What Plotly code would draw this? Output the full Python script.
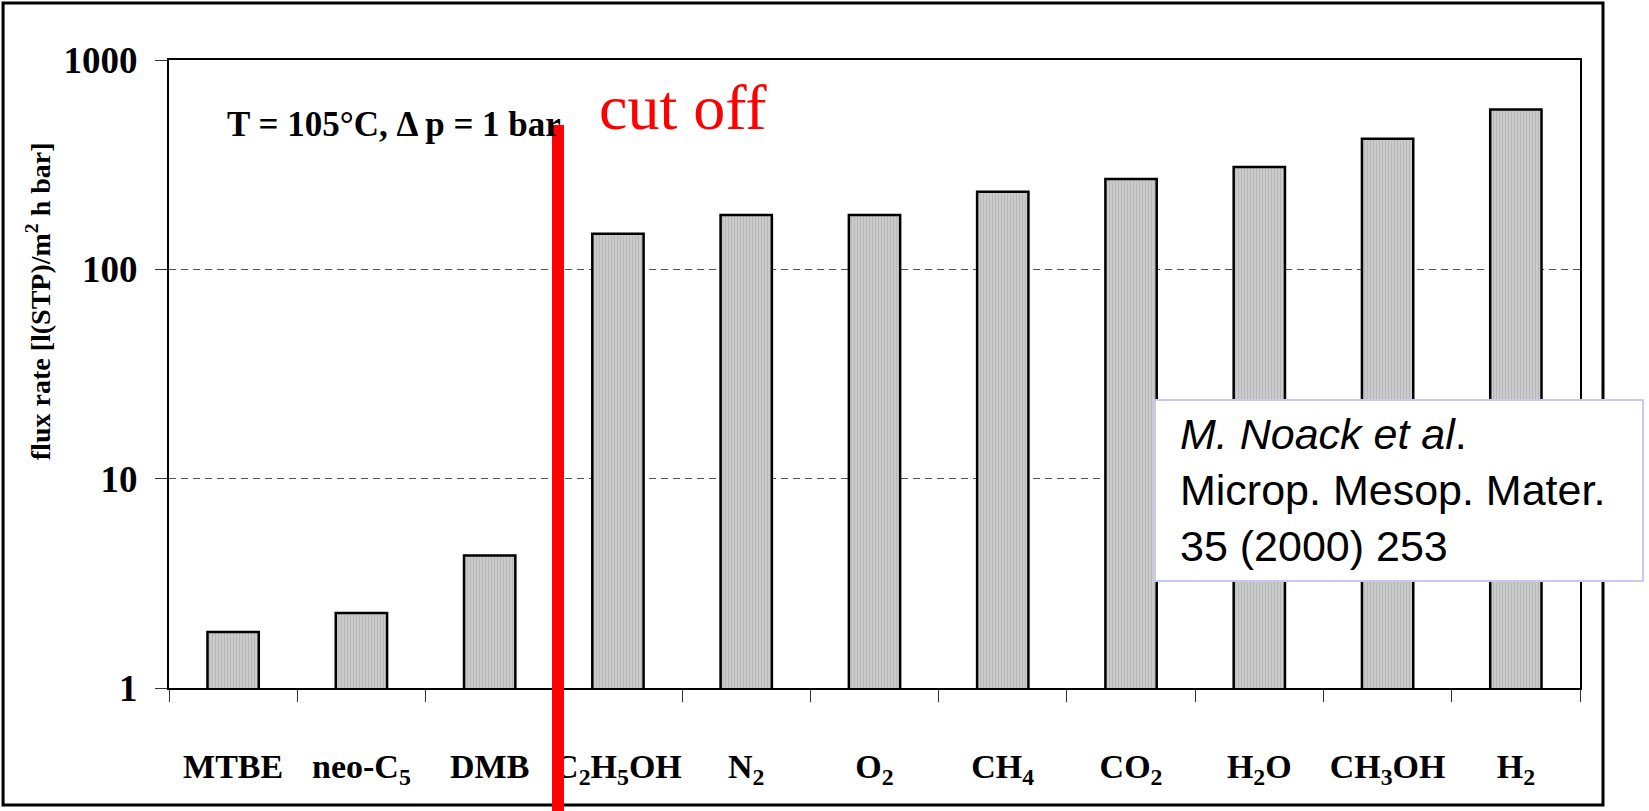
import plotly.graph_objects as go

# Permeating species and measured flux rates (log scale)
species = ["MTBE", "neo-C<sub>5</sub>", "DMB", "C<sub>2</sub>H<sub>5</sub>OH", "N<sub>2</sub>",
           "O<sub>2</sub>", "CH<sub>4</sub>", "CO<sub>2</sub>", "H<sub>2</sub>O",
           "CH<sub>3</sub>OH", "H<sub>2</sub>"]
flux = [1.85, 2.28, 4.3, 148, 182, 182, 235, 270, 308, 420, 580]

y_tickvals = [1, 10, 100, 1000]
y_ticktext = ["1", "10", "100", "1000"]

SERIF = "Liberation Serif, Times New Roman, serif"
SANS = "Liberation Sans, Arial, sans-serif"

fig = go.Figure()
fig.add_trace(go.Bar(
    x=species,
    y=flux,
    marker=dict(
        color="#c4c4c4",
        line=dict(color="black", width=2.5),
        pattern=dict(shape="|", fgcolor="#a6a6a6", bgcolor="#cbcbcb", size=3, solidity=0.35),
    ),
    showlegend=False,
))

fig.update_layout(
    width=1649, height=811,
    margin=dict(l=169, r=69, t=60, b=123, autoexpand=False),
    paper_bgcolor="white", plot_bgcolor="white",
    bargap=0.6,
    font=dict(family=SERIF, color="black"),
)

fig.update_xaxes(
    type="category",
    showline=True, linecolor="black", linewidth=2, mirror=True,
    ticks="outside", tickson="boundaries", ticklen=12, tickcolor="#333", tickwidth=1,
    tickangle=0,
    tickfont=dict(family=SERIF, size=34, weight="bold", color="black"),
    ticklabelstandoff=47,
    showgrid=False,
)

fig.update_yaxes(
    type="log", range=[0, 3],
    tickvals=y_tickvals, ticktext=y_ticktext,
    showline=True, linecolor="black", linewidth=2, mirror=True,
    ticks="outside", ticklen=12, tickcolor="#333", tickwidth=1,
    tickfont=dict(family=SERIF, size=37, weight="bold", color="black"),
    ticklabelstandoff=10,
    showgrid=True, gridcolor="#555555", gridwidth=1, griddash="7px,5px",
)

# outer frame around the whole figure
fig.add_shape(type="rect", xref="paper", yref="paper",
              x0=-0.1176, x1=1.0163, y0=-0.1863, y1=1.0908,
              line=dict(color="black", width=3), fillcolor="rgba(0,0,0,0)", layer="above")

# red cut-off marker between DMB and ethanol
fig.add_shape(type="line", xref="paper", yref="paper",
              x0=0.2757, x1=0.2757, y0=-0.2, y1=0.8965,
              line=dict(color="#ff0000", width=12), layer="above")

fig.add_annotation(xref="paper", yref="paper", x=0.3643, y=0.9236,
                   text="cut off", showarrow=False, xanchor="center", yanchor="middle",
                   font=dict(family=SERIF, size=64, color="#ff0000"))

fig.add_annotation(xref="paper", yref="paper", x=0.0397, y=0.898,
                   text="T = 105°C, Δ p = 1 bar", showarrow=False,
                   xanchor="left", yanchor="middle",
                   font=dict(family=SERIF, size=35, weight="bold", color="black"))

# y-axis title
fig.add_annotation(xref="paper", yref="paper", x=-0.0928, y=0.616,
                   text="flux rate [l(STP)/m<sup>2</sup> h bar]", showarrow=False,
                   textangle=-90, xanchor="center", yanchor="middle",
                   font=dict(family=SERIF, size=28, weight="bold", color="black"))

# literature reference box
fig.add_shape(type="rect", xref="paper", yref="paper",
              x0=0.6988, x1=1.0447, y0=0.1704, y1=0.4586,
              line=dict(color="#c8c8f2", width=2), fillcolor="white", layer="above")
fig.add_annotation(xref="paper", yref="paper", x=0.7151, y=0.3153,
                   text="<i>M. Noack et al</i>.<br>Microp. Mesop. Mater.<br>35 (2000) 253",
                   showarrow=False, xanchor="left", yanchor="middle", align="left",
                   font=dict(family=SANS, size=43, color="black"))

fig.write_html("out.html")
